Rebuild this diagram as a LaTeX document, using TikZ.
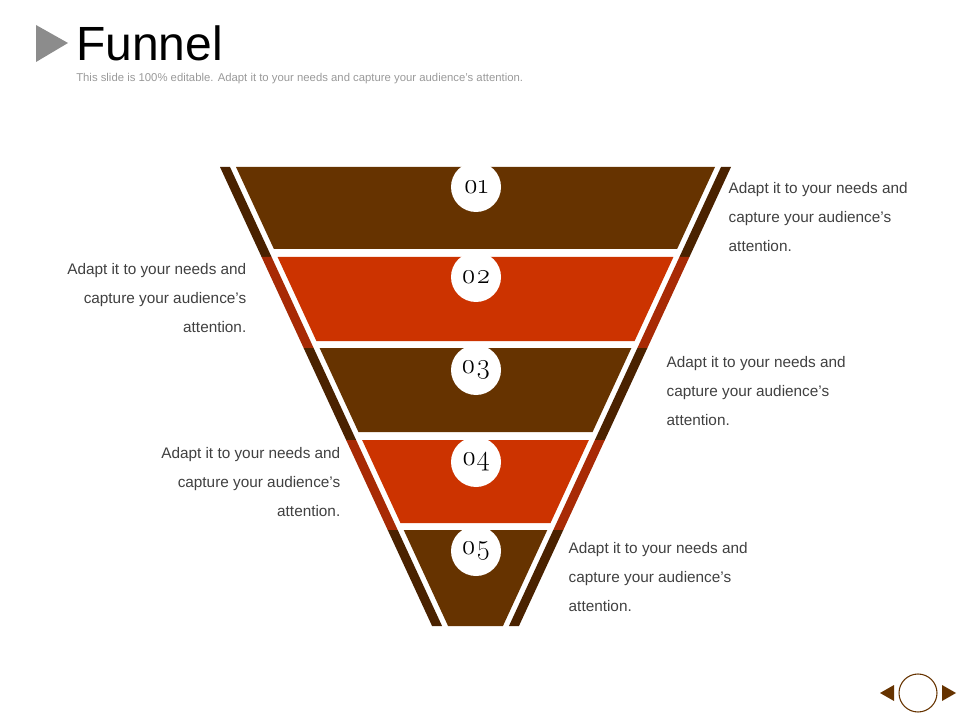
\documentclass[tikz,border=0pt]{standalone}
\usepackage{fontspec}
\setmainfont{Liberation Sans}
\newfontfamily\numfont{Latin Modern Roman}
\definecolor{bandbrown}{HTML}{663300}
\definecolor{bandred}{HTML}{CC3300}
\definecolor{stripbrown}{HTML}{4A2200}
\definecolor{stripred}{HTML}{A82A05}
\definecolor{textgray}{HTML}{404040}
\begin{document}
\begin{tikzpicture}[x=0.75pt, y=-0.75pt,
  numcircle/.style={circle, fill=white, minimum size=50*0.75pt, inner sep=0pt, font=\numfont\fontsize{21}{21}\selectfont},
  righttext/.style={anchor=north west, align=left, text=textgray, font=\fontsize{11.5}{21.5}\selectfont},
  lefttext/.style={anchor=north east, align=right, text=textgray, font=\fontsize{11.5}{21.5}\selectfont}]
  \useasboundingbox (0,0) rectangle (960,720);

  % title
  \fill[gray!90] (36,25) -- (68,43) -- (36,62) -- cycle;
  \node[anchor=base west, inner sep=0pt, font=\fontsize{36}{36}\selectfont] (title) at (76,61) {Funnel};
  \node[anchor=base west, inner sep=0pt, text=gray!80, font=\fontsize{8.5}{10}\selectfont] (subtitle) at (76,82)
    {This slide is 100\% editable. Adapt it to your needs and capture your audience's attention.};

  % funnel bands: top/bottom/strip end/colour
  \foreach \t/\b/\s/\col/\scol in {167/249/257/bandbrown/stripbrown, 257/341/348/bandred/stripred,
      348/432/440/bandbrown/stripbrown, 440/523/530/bandred/stripred, 530/626/626/bandbrown/stripbrown}{
    \pgfmathsetmacro\lt{220+0.462*(\t-167)}
    \pgfmathsetmacro\rt{731-0.462*(\t-167)}
    \pgfmathsetmacro\lb{220+0.462*(\b-167)}
    \pgfmathsetmacro\rb{731-0.462*(\b-167)}
    \pgfmathsetmacro\ls{220+0.462*(\s-167)}
    \pgfmathsetmacro\rs{731-0.462*(\s-167)}
    \fill[\col] (\lt+16,\t) -- (\rt-16,\t) -- (\rb-16,\b) -- (\lb+16,\b) -- cycle;
    \fill[\scol] (\lt,\t) -- (\lt+10,\t) -- (\ls+10,\s) -- (\ls,\s) -- cycle;
    \fill[\scol] (\rt,\t) -- (\rt-10,\t) -- (\rs-10,\s) -- (\rs,\s) -- cycle;
  }

  % number circles
  \node[numcircle] (n1) at (476,187) {\oldstylenums{01}};
  \node[numcircle] (n2) at (476,277) {\oldstylenums{02}};
  \node[numcircle] (n3) at (476,370) {\oldstylenums{03}};
  \node[numcircle] (n4) at (476,462) {\oldstylenums{04}};
  \node[numcircle] (n5) at (476,551) {\oldstylenums{05}};

  % descriptions
  \node[righttext] (t1) at (724,178) {Adapt it to your needs and\\capture your audience's\\attention.};
  \node[lefttext] (t2) at (251,259) {Adapt it to your needs and\\capture your audience's\\attention.};
  \node[righttext] (t3) at (662,352) {Adapt it to your needs and\\capture your audience's\\attention.};
  \node[lefttext] (t4) at (345,443) {Adapt it to your needs and\\capture your audience's\\attention.};
  \node[righttext] (t5) at (564,538) {Adapt it to your needs and\\capture your audience's\\attention.};

  % navigation
  \fill[bandbrown] (880,693) -- (894,685) -- (894,701) -- cycle;
  \node[circle, draw=bandbrown, thick, minimum size=38*0.75pt, inner sep=0pt] (navbtn) at (918,693) {};
  \fill[bandbrown] (956,693) -- (942,685) -- (942,701) -- cycle;
\end{tikzpicture}
\end{document}
